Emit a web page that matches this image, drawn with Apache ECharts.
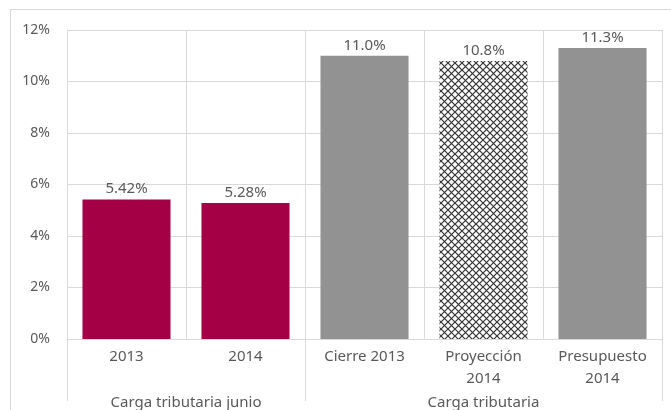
<!DOCTYPE html>
<html>
<head>
<meta charset="utf-8">
<script src="https://cdn.jsdelivr.net/npm/echarts@6/dist/echarts.min.js"></script>
<style>
    html, body { margin: 0; padding: 0; background: #fff; }
    #chart { width: 671px; height: 410px; }
</style>
</head>
<body>
<div id="chart"></div>
<script>
    // datos
    const categories = ['2013', '2014', 'Cierre 2013', 'Proyección\n2014', 'Presupuesto\n2014'];
    const values = [5.42, 5.28, 11.0, 10.8, 11.3];
    const barLabels = ['5.42%', '5.28%', '11.0%', '10.8%', '11.3%'];
    const groups = ['Carga tributaria junio', 'Carga tributaria'];
    const groupSpans = [2, 3];
    const yTicks = [0, 2, 4, 6, 8, 10, 12];

    const textColor = '#595959';
    const lineColor = '#d9d9d9';
    const fontFamily = '"Noto Sans", sans-serif';

    // patron de cuadricula para la barra de proyeccion
    function hatchPattern() {
        const n = 7;
        const c = document.createElement('canvas');
        c.width = n;
        c.height = n;
        const ctx = c.getContext('2d');
        ctx.fillStyle = '#ffffff';
        ctx.fillRect(0, 0, n, n);
        ctx.strokeStyle = '#333333';
        ctx.lineWidth = 1.2;
        ctx.beginPath();
        ctx.moveTo(0, 0); ctx.lineTo(n, n);
        ctx.moveTo(0, n); ctx.lineTo(n, 0);
        ctx.stroke();
        return { image: c, repeat: 'repeat' };
    }

    const barColors = ['#a30046', '#a30046', '#929292', hatchPattern(), '#929292'];

    // limites y centros de los grupos
    const bounds = [0];
    groupSpans.forEach(s => bounds.push(bounds[bounds.length - 1] + s));
    const centers = groupSpans.map((s, i) => bounds[i] + s / 2);

    const option = {
        animation: false,
        textStyle: { fontFamily: fontFamily },
        graphic: [{
            type: 'rect',
            shape: { x: 10.5, y: 9.5, width: 700, height: 420 },
            style: { fill: 'none', stroke: lineColor, lineWidth: 1 },
            silent: true
        }],
        grid: { left: 67, right: 9, top: 30, bottom: 70 },
        xAxis: [
            {
                type: 'category',
                data: categories,
                axisLine: { show: true, lineStyle: { color: lineColor } },
                axisTick: { show: false },
                splitLine: { show: true, interval: 0, lineStyle: { color: lineColor } },
                axisLabel: {
                    interval: 0,
                    color: textColor,
                    fontSize: 15,
                    lineHeight: 22,
                    margin: 7
                }
            },
            {
                type: 'value',
                position: 'bottom',
                offset: 62,
                min: 0,
                max: bounds[bounds.length - 1],
                axisLine: { show: false },
                splitLine: { show: false },
                axisTick: {
                    show: true,
                    inside: true,
                    length: 62,
                    customValues: bounds,
                    lineStyle: { color: lineColor }
                },
                axisLabel: {
                    customValues: centers,
                    margin: -6,
                    color: textColor,
                    fontSize: 15,
                    formatter: (v) => {
                        const i = centers.indexOf(v);
                        return i >= 0 ? groups[i] : '';
                    }
                }
            }
        ],
        yAxis: {
            type: 'value',
            min: yTicks[0],
            max: yTicks[yTicks.length - 1],
            interval: 2,
            axisLine: { show: true, lineStyle: { color: lineColor } },
            axisTick: { show: false },
            splitLine: { show: true, lineStyle: { color: lineColor } },
            axisLabel: {
                color: textColor,
                fontSize: 14,
                margin: 17,
                formatter: '{value}%'
            }
        },
        series: [{
            type: 'bar',
            xAxisIndex: 0,
            barCategoryGap: '26%',
            data: values.map((v, i) => ({ value: v, itemStyle: { color: barColors[i] } })),
            label: {
                show: true,
                position: 'top',
                distance: 3,
                color: textColor,
                fontSize: 15,
                formatter: (p) => barLabels[p.dataIndex]
            }
        }]
    };

    const chart = echarts.init(document.getElementById('chart'));
    chart.setOption(option);
</script>
</body>
</html>
